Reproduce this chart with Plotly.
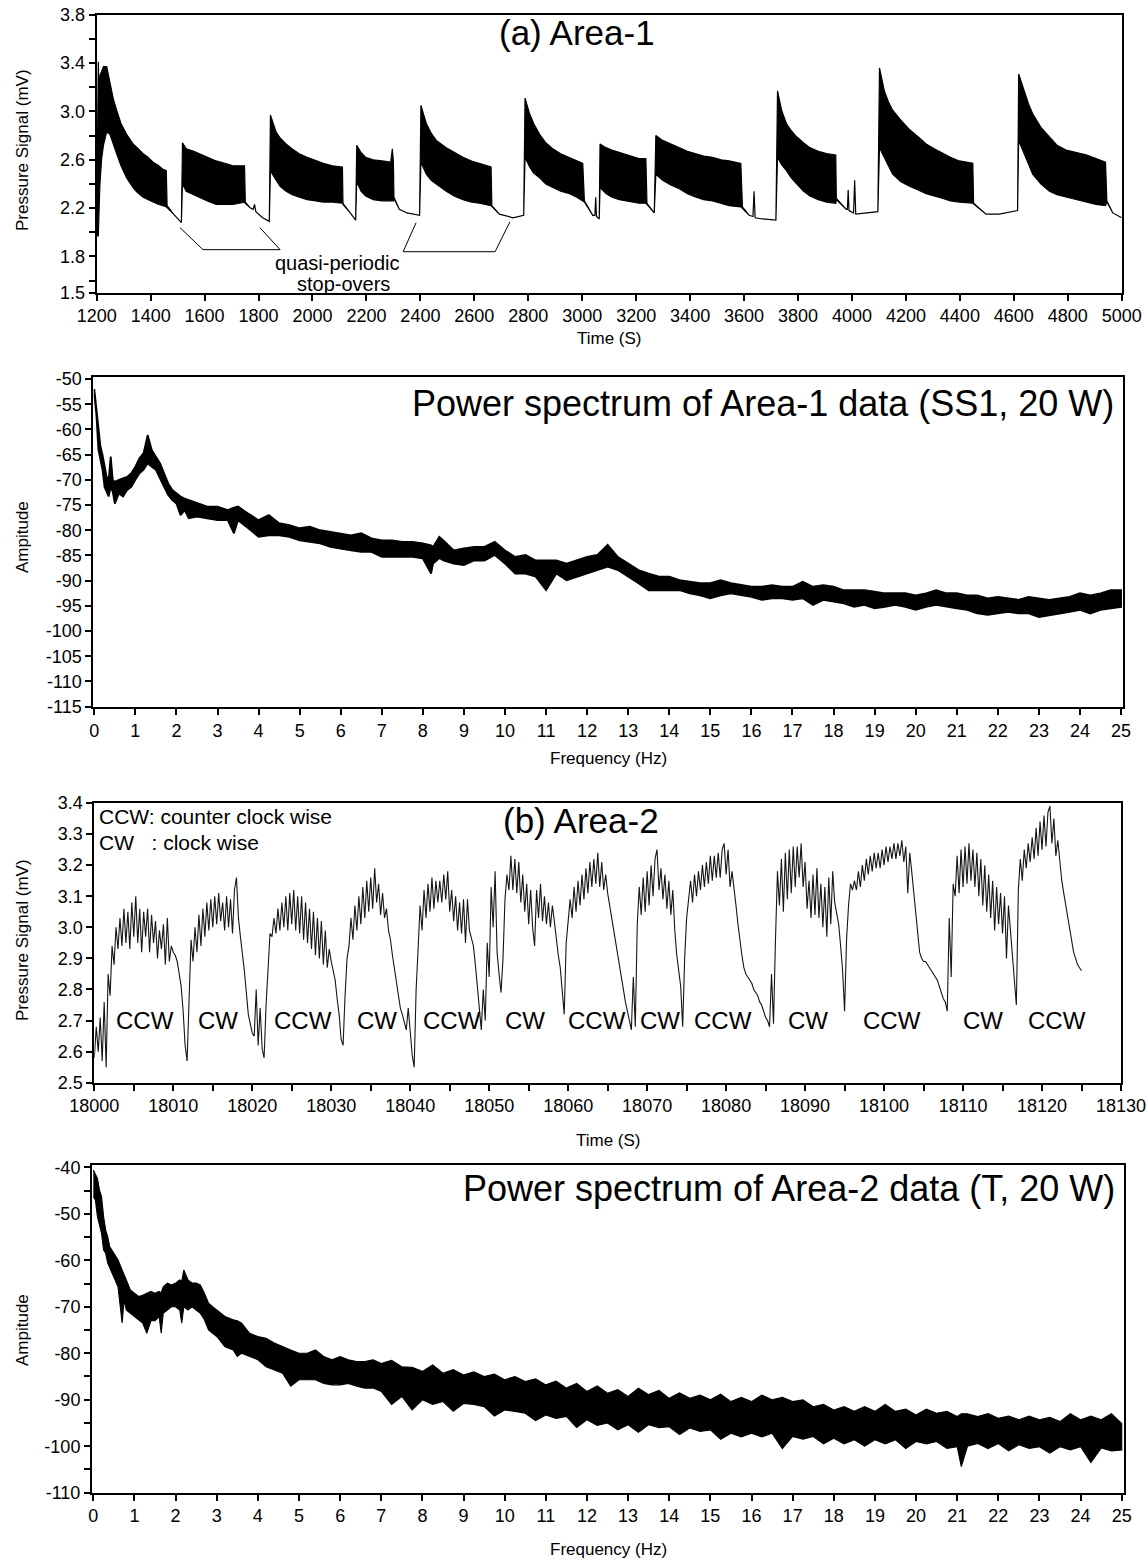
import plotly.graph_objects as go

FONT = "Liberation Sans, Arial, Helvetica, sans-serif"
W, H = 1148, 1561

# ---------------- (a) Area-1 : envelope of the dense pressure signal ----------------
A1_T = [1200, 1203, 1206, 1209, 1212, 1218, 1225, 1237, 1249, 1262, 1274, 1290, 1311, 1335, 1350,
        1372, 1390, 1409, 1430, 1446, 1458, 1461, 1485, 1514,
        1518, 1532, 1560, 1582, 1610, 1643, 1675, 1705, 1748, 1751, 1770, 1780, 1785, 1790, 1815, 1840,
        1844, 1865, 1880, 1902, 1925, 1951, 1980, 2012, 2040, 2074, 2111, 2113, 2140, 2160,
        2164, 2180, 2197, 2225, 2258, 2290, 2296, 2300, 2302, 2322, 2350, 2375, 2397,
        2402, 2422, 2440, 2459, 2496, 2525, 2558, 2590, 2619, 2662, 2665, 2693, 2743, 2783,
        2788, 2805, 2820, 2842, 2865, 2891, 2920, 2953, 2980, 3002, 3008, 3039, 3047, 3050, 3053, 3063,
        3066, 3088, 3110, 3138, 3160, 3187, 3210, 3236, 3240, 3267,
        3273, 3298, 3330, 3360, 3390, 3422, 3450, 3483, 3515, 3545, 3588, 3594, 3619, 3633, 3637, 3641, 3669, 3718,
        3724, 3739, 3757, 3775, 3795, 3820, 3844, 3875, 3906, 3940, 3942, 3979, 3983, 3986, 3989, 4006, 4010, 4014, 4050, 4096,
        4102, 4120, 4135, 4151, 4180, 4213, 4245, 4275, 4305, 4337, 4365, 4398, 4448, 4451, 4497, 4546, 4590, 4614,
        4618, 4639, 4655, 4670, 4700, 4732, 4760, 4794, 4830, 4868, 4905, 4940, 4945, 4967, 5000]
A1_UP = [2.05, 2.60, 3.41, 3.05, 3.30, 3.33, 3.37, 3.37, 3.23, 3.10, 3.01, 2.90, 2.81, 2.73, 2.70,
         2.65, 2.62, 2.58, 2.55, 2.52, 2.51, 2.22, 2.15, 2.08,
         2.74, 2.69, 2.67, 2.65, 2.62, 2.59, 2.57, 2.55, 2.55, 2.25, 2.20, 2.19, 2.23, 2.17, 2.12, 2.09,
         2.97, 2.83, 2.78, 2.73, 2.69, 2.65, 2.62, 2.59, 2.57, 2.55, 2.54, 2.24, 2.16, 2.10,
         2.72, 2.66, 2.62, 2.60, 2.59, 2.58, 2.69, 2.58, 2.29, 2.19, 2.16, 2.15, 2.14,
         3.05, 2.90, 2.82, 2.76, 2.70, 2.66, 2.62, 2.59, 2.57, 2.54, 2.22, 2.15, 2.12, 2.14,
         3.11, 2.98, 2.90, 2.81, 2.74, 2.69, 2.65, 2.62, 2.59, 2.57, 2.26, 2.14, 2.14, 2.29, 2.13, 2.11,
         2.73, 2.70, 2.68, 2.66, 2.64, 2.62, 2.61, 2.61, 2.24, 2.16,
         2.80, 2.76, 2.73, 2.70, 2.67, 2.65, 2.63, 2.62, 2.60, 2.59, 2.57, 2.21, 2.14, 2.13, 2.34, 2.12, 2.11, 2.10,
         3.17, 3.01, 2.90, 2.84, 2.79, 2.74, 2.70, 2.67, 2.65, 2.64, 2.28, 2.19, 2.19, 2.35, 2.18, 2.16, 2.43, 2.15, 2.16, 2.17,
         3.36, 3.17, 3.08, 3.01, 2.93, 2.85, 2.79, 2.73, 2.69, 2.65, 2.62, 2.59, 2.57, 2.24, 2.15, 2.15, 2.17, 2.18,
         3.31, 3.17, 3.06, 2.98, 2.87, 2.79, 2.72, 2.68, 2.66, 2.64, 2.61, 2.58, 2.26, 2.16, 2.12]
A1_LO = [1.98, 1.97, 1.97, 2.20, 2.40, 2.60, 2.72, 2.83, 2.81, 2.72, 2.65, 2.55, 2.45, 2.37, 2.33,
         2.29, 2.27, 2.25, 2.23, 2.22, 2.21, 2.20, 2.15, 2.08,
         2.40, 2.34, 2.31, 2.29, 2.26, 2.23, 2.23, 2.23, 2.25, 2.24, 2.20, 2.19, 2.23, 2.17, 2.12, 2.09,
         2.51, 2.43, 2.38, 2.34, 2.31, 2.29, 2.27, 2.26, 2.25, 2.25, 2.24, 2.23, 2.16, 2.10,
         2.42, 2.34, 2.30, 2.27, 2.26, 2.26, 2.26, 2.26, 2.28, 2.19, 2.16, 2.15, 2.14,
         2.58, 2.48, 2.43, 2.40, 2.34, 2.30, 2.27, 2.25, 2.24, 2.22, 2.21, 2.15, 2.12, 2.14,
         2.62, 2.54, 2.49, 2.45, 2.40, 2.37, 2.34, 2.32, 2.29, 2.26, 2.25, 2.14, 2.14, 2.29, 2.13, 2.11,
         2.37, 2.32, 2.29, 2.27, 2.26, 2.25, 2.24, 2.24, 2.23, 2.16,
         2.48, 2.43, 2.39, 2.36, 2.32, 2.29, 2.27, 2.26, 2.24, 2.22, 2.21, 2.20, 2.14, 2.13, 2.34, 2.12, 2.11, 2.10,
         2.62, 2.56, 2.51, 2.45, 2.40, 2.34, 2.30, 2.27, 2.25, 2.24, 2.27, 2.19, 2.19, 2.35, 2.18, 2.16, 2.43, 2.15, 2.16, 2.17,
         2.70, 2.62, 2.55, 2.48, 2.42, 2.38, 2.35, 2.32, 2.30, 2.28, 2.26, 2.25, 2.24, 2.23, 2.15, 2.15, 2.17, 2.18,
         2.76, 2.65, 2.56, 2.48, 2.40, 2.34, 2.31, 2.29, 2.27, 2.25, 2.23, 2.22, 2.25, 2.16, 2.12]
A1_XTICKS = list(range(1200, 5001, 200))
A1_YTICKS = [1.5, 1.6, 1.8, 2.0, 2.2, 2.4, 2.6, 2.8, 3.0, 3.2, 3.4, 3.6, 3.8]
A1_YLABELS = ["1.5", "", "1.8", "", "2.2", "", "2.6", "", "3.0", "", "3.4", "", "3.8"]
# bracket annotations "quasi-periodic stop-overs" (time, mV)
BRACKET_L_T = [1509, 1594, 1880, 1805]
BRACKET_L_V = [2.038, 1.856, 1.856, 2.038]
BRACKET_R_T = [2384, 2336, 2677, 2732]
BRACKET_R_V = [2.079, 1.839, 1.839, 2.087]

# ---------------- Power spectrum of Area-1 (band: upper / lower trace envelope) -------
S1_F = [0, 0.05, 0.1, 0.15, 0.2, 0.25, 0.3, 0.35, 0.4, 0.45,
        0.5, 0.6, 0.7, 0.8, 0.9, 1.0, 1.1, 1.2, 1.3, 1.4,
        1.5, 1.6, 1.7, 1.8, 1.9, 2.0, 2.1, 2.2, 2.3, 2.5,
        2.75, 3.0, 3.25, 3.4, 3.5, 3.75, 4.0, 4.25, 4.5, 4.75,
        5.0, 5.25, 5.5, 5.75, 6.0, 6.25, 6.5, 6.75, 7.0, 7.25,
        7.5, 7.75, 8.0, 8.2, 8.25, 8.4, 8.5, 8.75, 9.0, 9.25,
        9.5, 9.75, 10.0, 10.25, 10.5, 10.75, 11.0, 11.25, 11.5, 11.75,
        12.0, 12.25, 12.5, 12.75, 13.0, 13.25, 13.5, 13.75, 14.0, 14.25,
        14.5, 14.75, 15.0, 15.25, 15.5, 15.75, 16.0, 16.25, 16.5, 16.75,
        17.0, 17.25, 17.5, 17.75, 18.0, 18.25, 18.5, 18.75, 19.0, 19.25,
        19.5, 19.75, 20.0, 20.25, 20.5, 20.75, 21.0, 21.25, 21.5, 21.75,
        22.0, 22.25, 22.5, 22.75, 23.0, 23.25, 23.5, 23.75, 24.0, 24.25,
        24.5, 24.75, 25.0]
S1_UP = [-52.0, -55.5, -59.0, -63.4, -65.0, -67.4, -69.4, -70.0, -65.4, -70.0,
         -70.4, -70.0, -69.7, -69.4, -68.7, -67.4, -65.7, -64.7, -61.1, -64.1,
         -65.4, -66.7, -68.7, -70.7, -72.0, -72.7, -73.3, -73.7, -74.0, -74.7,
         -75.3, -75.3, -76.0, -75.5, -75.3, -76.7, -78.0, -77.0, -78.6, -79.0,
         -79.6, -79.3, -80.0, -80.3, -80.6, -81.0, -80.6, -81.6, -82.0, -82.0,
         -82.3, -82.3, -82.6, -83.0, -83.3, -81.3, -82.0, -84.0, -83.6, -83.3,
         -83.3, -82.3, -84.0, -85.3, -84.9, -86.0, -86.0, -86.0, -86.6, -86.0,
         -85.3, -84.9, -82.9, -85.3, -86.6, -87.9, -88.6, -89.2, -89.2, -89.9,
         -90.2, -90.5, -90.5, -89.9, -90.5, -90.9, -91.2, -91.2, -90.9, -91.2,
         -91.2, -90.2, -91.2, -90.9, -91.2, -91.9, -91.9, -91.9, -92.2, -92.5,
         -92.5, -92.5, -92.9, -92.5, -91.9, -92.5, -92.5, -92.9, -92.9, -93.5,
         -93.2, -93.5, -93.8, -93.2, -93.5, -93.8, -93.5, -93.2, -92.5, -92.9,
         -92.5, -91.9, -91.9]
S1_LO = [-53.0, -57.0, -64.0, -66.0, -68.0, -71.4, -72.4, -73.3, -71.4, -72.4,
         -74.7, -72.7, -73.3, -72.0, -71.4, -70.0, -68.7, -68.0, -66.7, -67.4,
         -68.0, -69.7, -71.4, -73.0, -74.0, -74.7, -77.0, -76.0, -77.6, -77.3,
         -77.6, -78.0, -78.0, -80.6, -78.0, -79.6, -81.3, -81.0, -81.0, -81.3,
         -82.0, -82.3, -82.6, -83.3, -83.6, -84.0, -84.3, -84.3, -85.3, -85.3,
         -85.3, -85.3, -85.6, -88.6, -86.6, -85.5, -86.0, -86.6, -86.9, -86.0,
         -86.0, -84.9, -86.6, -88.6, -88.6, -89.2, -91.9, -88.6, -89.9, -89.2,
         -88.6, -87.9, -87.2, -87.9, -89.2, -90.5, -91.9, -91.9, -91.9, -91.9,
         -92.5, -92.9, -93.5, -92.9, -92.5, -92.9, -93.2, -93.8, -93.5, -93.5,
         -93.8, -93.5, -94.8, -93.8, -94.2, -94.5, -95.2, -94.8, -95.5, -95.2,
         -94.8, -95.2, -95.8, -95.2, -94.8, -95.2, -95.5, -95.8, -96.5, -96.8,
         -96.5, -96.2, -96.5, -96.5, -97.2, -96.8, -96.5, -96.2, -95.8, -96.5,
         -95.8, -95.5, -95.2]
S1_YTICKS = list(range(-115, -49, 5))
F_TICKS = list(range(0, 26))

# ---------------- (b) Area-2 : pressure signal sampled every 0.25 s from 18000 s ------
A2_T0 = 18000.0
A2_DT = 0.25
A2_CYC_A = [2.58, 2.68, 2.60, 2.71, 2.57, 2.76, 2.55, 2.85, 2.78, 2.94, 2.88, 3.00, 2.93, 3.03, 2.94, 3.06,
            2.95, 3.05, 2.93, 3.08, 2.97, 3.10, 2.95, 3.06, 2.92, 3.05, 2.97, 3.06, 2.92, 3.04, 2.95, 3.02,
            2.90, 2.99, 2.93, 3.01, 2.88, 3.03, 2.89, 2.94, 2.92, 2.91, 2.89, 2.85, 2.81, 2.73, 2.62, 2.57]
A2_CYC_B = [2.75, 2.96, 2.89, 3.00, 2.92, 3.04, 2.94, 3.06, 2.97, 3.08, 2.99, 3.09, 3.00, 3.10, 3.01, 3.11,
            3.02, 3.08, 2.99, 3.10, 3.00, 3.09, 2.98, 3.12, 3.16, 3.03, 2.97, 2.92, 2.86, 2.79, 2.72, 2.69,
            2.66, 2.65, 2.80, 2.62, 2.74, 2.61, 2.58]
A2_CYC_C = [2.75, 2.88, 2.98, 2.97, 3.03, 2.98, 3.06, 2.99, 3.08, 3.00, 3.10, 2.99, 3.11, 3.01, 3.12, 2.99,
            3.10, 2.98, 3.10, 2.96, 3.08, 2.95, 3.06, 2.93, 3.05, 2.91, 3.03, 2.90, 3.02, 2.88, 2.99, 2.87,
            2.93, 2.89, 2.86, 2.83, 2.77, 2.72, 2.64]
A2_CYC_D = [2.62, 2.78, 2.90, 2.94, 3.03, 2.96, 3.07, 2.99, 3.10, 3.01, 3.13, 3.03, 3.15, 3.05, 3.16, 3.06,
            3.19, 3.08, 3.14, 3.04, 3.11, 3.03, 3.06, 2.99, 2.96, 2.91, 2.87, 2.83, 2.78, 2.74, 2.72, 2.69,
            2.67, 2.74, 2.65, 2.59, 2.55, 2.80]
A2_CYC_E = [2.93, 3.07, 2.99, 3.12, 3.03, 3.14, 3.05, 3.16, 3.06, 3.15, 3.08, 3.15, 3.08, 3.17, 3.09, 3.18,
            3.05, 3.12, 3.02, 3.10, 2.99, 3.08, 2.98, 3.09, 2.95, 3.09, 2.99, 2.96, 2.94, 2.88, 2.81, 2.74,
            2.67]
A2_CYC_F = [2.80, 2.70, 2.95, 2.84, 3.13, 3.00, 3.18, 2.92, 2.85, 2.79, 2.90, 3.09, 3.17, 3.12, 3.23, 3.12,
            3.22, 3.11, 3.21, 3.08, 3.17, 3.05, 3.14, 3.01, 3.12, 3.00, 2.94, 3.12, 3.03, 3.14, 3.02, 3.10,
            3.01, 3.08, 3.00, 3.07, 3.02, 2.96, 2.91, 2.87, 2.78, 2.72]
A2_CYC_G = [2.95, 3.01, 3.09, 3.03, 3.13, 3.05, 3.15, 3.07, 3.17, 3.09, 3.19, 3.11, 3.21, 3.13, 3.22, 3.14,
            3.24, 3.13, 3.21, 3.12, 3.17, 3.11, 3.07, 3.03, 2.99, 2.95, 2.91, 2.87, 2.83, 2.79, 2.76, 2.73,
            2.70, 2.67]
A2_CYC_H = [2.84, 2.68, 3.01, 3.13, 3.04, 3.16, 3.05, 3.18, 3.07, 3.20, 3.10, 3.22, 3.25, 3.12, 3.19, 3.09,
            3.17, 3.06, 3.15, 3.04, 3.12, 2.99, 2.91, 2.86, 2.81, 2.68]
A2_CYC_I = [2.90, 3.03, 3.09, 3.15, 3.08, 3.17, 3.10, 3.18, 3.12, 3.20, 3.13, 3.21, 3.14, 3.23, 3.15, 3.23,
            3.16, 3.24, 3.16, 3.25, 3.27, 3.17, 3.25, 3.13, 3.18, 3.13, 3.07, 3.01, 2.95, 2.91, 2.87, 2.85,
            2.84, 2.83, 2.82, 2.80, 2.79, 2.78, 2.76, 2.75, 2.73, 2.71, 2.70, 2.68]
A2_CYC_J = [2.85, 2.69, 2.96, 3.18, 3.07, 3.22, 3.05, 3.24, 3.09, 3.25, 3.11, 3.26, 3.13, 3.26, 3.16, 3.27,
            3.13, 3.21, 3.06, 3.15, 3.03, 3.17, 3.04, 3.19, 3.03, 3.14, 3.00, 3.13, 2.97, 3.16, 3.01, 3.18,
            3.08, 3.04, 3.01, 2.94, 2.86, 2.73]
A2_CYC_K = [2.96, 3.07, 3.14, 3.12, 3.15, 3.12, 3.18, 3.13, 3.20, 3.15, 3.22, 3.17, 3.23, 3.18, 3.24, 3.19,
            3.24, 3.19, 3.25, 3.20, 3.26, 3.21, 3.26, 3.22, 3.27, 3.22, 3.27, 3.23, 3.28, 3.21, 3.26, 3.11,
            3.24, 3.18, 3.12, 3.05, 2.99, 2.92, 2.90, 2.89, 2.89, 2.88, 2.87, 2.86, 2.85, 2.84, 2.83, 2.81,
            2.79, 2.77, 2.76, 2.73]
A2_CYC_L = [3.03, 2.84, 3.14, 3.10, 3.23, 3.11, 3.25, 3.13, 3.26, 3.14, 3.27, 3.15, 3.25, 3.13, 3.24, 3.10,
            3.22, 3.07, 3.20, 3.05, 3.17, 3.03, 3.15, 2.99, 3.13, 3.01, 3.11, 2.98, 3.10, 2.90, 3.07, 2.99,
            2.88, 2.80, 2.75]
A2_CYC_M = [3.12, 3.22, 3.15, 3.25, 3.19, 3.27, 3.21, 3.29, 3.22, 3.32, 3.23, 3.34, 3.25, 3.36, 3.26, 3.37,
            3.39, 3.27, 3.35, 3.23, 3.28, 3.21, 3.15, 3.11, 3.07, 3.03, 2.99, 2.95, 2.92, 2.90, 2.88, 2.87,
            2.86]
A2_XTICKS = list(range(18000, 18131, 5))
A2_YTICKS = [2.5, 2.6, 2.7, 2.8, 2.9, 3.0, 3.1, 3.2, 3.3, 3.4]
ROT_LABEL_T = [18006.4, 18015.7, 18026.4, 18035.8, 18045.3, 18054.5, 18063.6, 18071.6, 18079.6,
               18090.4, 18101.0, 18112.5, 18121.9]
ROT_LABEL_V = 2.70
ROT_LABELS = ["CCW", "CW", "CCW", "CW", "CCW", "CW", "CCW", "CW", "CCW", "CW", "CCW", "CW", "CCW"]

# ---------------- Power spectrum of Area-2 (band: upper / lower trace envelope) -------
S2_F = [0, 0.05, 0.1, 0.15, 0.2, 0.25, 0.3, 0.35, 0.4, 0.5,
        0.6, 0.7, 0.75, 0.8, 0.9, 1.0, 1.1, 1.2, 1.3, 1.4,
        1.5, 1.6, 1.65, 1.7, 1.8, 1.9, 2.0, 2.1, 2.15, 2.2,
        2.3, 2.4, 2.5, 2.6, 2.7, 2.8, 2.9, 3.0, 3.2, 3.4,
        3.5, 3.6, 3.8, 4.0, 4.2, 4.4, 4.6, 4.8, 5.0, 5.2,
        5.4, 5.6, 5.8, 6.0, 6.2, 6.4, 6.6, 6.8, 7.0, 7.25,
        7.5, 7.75, 8.0, 8.25, 8.5, 8.75, 9.0, 9.25, 9.5, 9.75,
        10.0, 10.25, 10.5, 10.75, 11.0, 11.25, 11.5, 11.75, 12.0, 12.25,
        12.5, 12.75, 13.0, 13.25, 13.5, 13.75, 14.0, 14.25, 14.5, 14.75,
        15.0, 15.25, 15.5, 15.75, 16.0, 16.25, 16.5, 16.75, 17.0, 17.25,
        17.5, 17.75, 18.0, 18.25, 18.5, 18.75, 19.0, 19.25, 19.5, 19.75,
        20.0, 20.25, 20.5, 20.75, 21.0, 21.1, 21.25, 21.5, 21.75, 22.0,
        22.25, 22.5, 22.75, 23.0, 23.25, 23.5, 23.75, 24.0, 24.25, 24.5,
        24.75, 25.0]
S2_UP = [-40.6, -41.6, -42.4, -44.9, -46.3, -50.6, -53.5, -54.9, -57.1, -58.5,
         -59.9, -62.1, -63.0, -64.2, -66.4, -67.1, -67.8, -67.5, -67.1, -66.7,
         -67.1, -66.7, -67.0, -65.7, -64.9, -65.3, -64.9, -64.2, -64.5, -62.1,
         -64.2, -64.9, -64.9, -65.3, -67.1, -69.2, -70.0, -70.7, -72.1, -72.8,
         -73.0, -73.5, -75.7, -76.4, -76.8, -77.8, -78.6, -79.3, -80.0, -80.0,
         -79.3, -80.7, -81.4, -80.7, -81.4, -81.8, -81.8, -81.4, -82.2, -81.5,
         -82.9, -83.0, -83.9, -82.5, -84.3, -83.5, -84.7, -84.0, -85.0, -84.5,
         -85.7, -85.0, -86.1, -85.5, -86.8, -86.0, -87.5, -86.5, -88.2, -87.0,
         -88.6, -87.8, -89.3, -87.5, -88.9, -88.0, -89.7, -88.5, -89.7, -89.0,
         -90.0, -88.8, -90.4, -89.5, -90.4, -89.0, -90.0, -89.5, -90.4, -90.0,
         -91.5, -91.0, -92.2, -91.5, -92.5, -91.5, -92.5, -91.0, -92.5, -92.0,
         -93.3, -92.0, -92.9, -92.5, -93.6, -93.0, -93.0, -93.6, -93.0, -94.0,
         -93.5, -94.3, -93.5, -94.3, -93.8, -94.7, -93.0, -94.3, -93.5, -94.3,
         -93.0, -95.1]
S2_LO = [-46.3, -47.0, -50.6, -52.0, -54.2, -57.8, -58.5, -60.6, -61.4, -63.5,
         -65.7, -73.5, -68.5, -70.7, -71.4, -72.1, -72.8, -73.5, -75.7, -73.0,
         -73.0, -72.1, -75.7, -71.4, -70.7, -70.0, -70.0, -70.7, -73.5, -70.0,
         -70.7, -70.0, -70.7, -71.4, -72.8, -75.0, -75.7, -76.4, -78.6, -79.3,
         -80.7, -80.0, -80.7, -81.4, -82.9, -83.6, -84.3, -87.1, -85.7, -85.7,
         -85.7, -86.5, -86.8, -86.8, -86.5, -87.1, -87.5, -87.5, -88.2, -91.0,
         -89.3, -92.2, -90.0, -91.0, -90.4, -92.5, -90.8, -91.0, -91.5, -93.5,
         -92.2, -92.5, -92.9, -94.5, -93.3, -94.0, -93.6, -96.0, -94.3, -95.5,
         -95.0, -96.5, -95.4, -97.0, -95.4, -96.0, -95.8, -97.5, -96.1, -96.8,
         -96.5, -98.5, -97.2, -98.0, -97.2, -98.0, -97.2, -100.5, -97.9, -98.5,
         -97.9, -99.5, -98.3, -99.5, -98.6, -100.0, -98.6, -99.5, -98.6, -100.5,
         -99.0, -99.5, -99.0, -100.5, -100.1, -104.4, -100.0, -99.4, -100.5, -99.4,
         -101.0, -99.7, -100.5, -100.1, -101.5, -100.1, -100.8, -100.1, -103.5, -100.4,
         -101.0, -100.8]
S2_YTICKS = list(range(-110, -39, 5))

# ============================== figure =======================================
fig = go.Figure()


def band(xs, up, lo, xa, ya, lw):
    fig.add_trace(go.Scatter(
        x=list(xs) + list(xs)[::-1], y=list(up) + list(lo)[::-1],
        mode="lines", fill="toself", fillcolor="black",
        line=dict(color="black", width=lw), xaxis=xa, yaxis=ya,
        hoverinfo="skip", showlegend=False))


band(A1_T, A1_UP, A1_LO, "x", "y", 1.2)
band(S1_F, S1_UP, S1_LO, "x2", "y2", 1.8)

a2_vals = (A2_CYC_A + A2_CYC_B + A2_CYC_C + A2_CYC_D + A2_CYC_E + A2_CYC_F + A2_CYC_G +
           A2_CYC_H + A2_CYC_I + A2_CYC_J + A2_CYC_K + A2_CYC_L + A2_CYC_M)
a2_t = [A2_T0 + A2_DT * i for i in range(len(a2_vals))]
fig.add_trace(go.Scatter(x=a2_t, y=a2_vals, mode="lines",
                         line=dict(color="#151515", width=1.1),
                         xaxis="x3", yaxis="y3", hoverinfo="skip", showlegend=False))

band(S2_F, S2_UP, S2_LO, "x4", "y4", 1.1)

# bracket lines
for bt, bv in ((BRACKET_L_T, BRACKET_L_V), (BRACKET_R_T, BRACKET_R_V)):
    fig.add_trace(go.Scatter(x=bt, y=bv, mode="lines", line=dict(color="black", width=1),
                             xaxis="x", yaxis="y", hoverinfo="skip", showlegend=False))


def axis(domain, rng, tickvals, ticktext, anchor):
    return dict(domain=domain, range=rng, tickmode="array", tickvals=tickvals, ticktext=ticktext,
                ticks="outside", ticklen=6, tickwidth=1.5, tickcolor="black",
                showline=True, linewidth=2, linecolor="black", mirror=True,
                showgrid=False, zeroline=False, anchor=anchor, fixedrange=True,
                automargin=False,
                tickfont=dict(family=FONT, size=18, color="black"))


def py(p):  # pixel row -> paper y
    return (H - p) / H


def px(p):
    return p / W


layout = dict(
    width=W, height=H, autosize=False,
    margin=dict(l=0, r=0, t=0, b=0, pad=0, autoexpand=False),
    paper_bgcolor="white", plot_bgcolor="white", showlegend=False,
    font=dict(family=FONT, color="black"),
)
layout["xaxis"] = axis([px(96.7), px(1121.7)], [1200, 5000], A1_XTICKS, [str(v) for v in A1_XTICKS], "y")
layout["yaxis"] = axis([py(292.7), py(14.7)], [1.5, 3.8], A1_YTICKS, A1_YLABELS, "x")
layout["xaxis2"] = axis([px(93.3), px(1122.7)], [-0.024, 25.04], F_TICKS, [str(v) for v in F_TICKS], "y2")
layout["yaxis2"] = axis([py(707), py(377)], [-115.06, -49.6], S1_YTICKS, [str(v) for v in S1_YTICKS], "x2")
layout["xaxis3"] = axis([px(94.3), px(1121)], [18000, 18130], A2_XTICKS,
                        [str(v) if v % 10 == 0 else "" for v in A2_XTICKS], "y3")
layout["yaxis3"] = axis([py(1082.7), py(803)], [2.5, 3.4], A2_YTICKS, ["%.1f" % v for v in A2_YTICKS], "x3")
layout["xaxis4"] = axis([px(92), px(1124)], [-0.032, 25.055], F_TICKS, [str(v) for v in F_TICKS], "y4")
layout["yaxis4"] = axis([py(1492.7), py(1165)], [-110, -39.5], S2_YTICKS,
                        [str(v) if v % 10 == 0 else "" for v in S2_YTICKS], "x4")

ann = []


def label(text, x, y, size, xanchor="center", yanchor="middle", angle=0, xref="paper", yref="paper"):
    ann.append(dict(text=text, x=x, y=y, xref=xref, yref=yref, showarrow=False,
                    xanchor=xanchor, yanchor=yanchor, textangle=angle,
                    font=dict(family=FONT, size=size, color="black")))


# titles inside panels
label("(a) Area-1", px(577), py(33), 35)
label("Power spectrum of Area-1 data (SS1, 20 W)", px(1116), py(403), 36, xanchor="right")
label("(b) Area-2", px(581), py(820), 35)
label("Power spectrum of Area-2 data (T, 20 W)", px(1117), py(1188), 36, xanchor="right")
# axis titles
label("Pressure Signal (mV)", px(22), py(150), 17, angle=-90)
label("Time (S)", px(609), py(338), 17)
label("Ampitude", px(22), py(537), 17, angle=-90)
label("Frequency (Hz)", px(608), py(758), 17)
label("Pressure Signal (mV)", px(22), py(940), 17, angle=-90)
label("Time (S)", px(608), py(1140), 17)
label("Ampitude", px(22), py(1330), 17, angle=-90)
label("Frequency (Hz)", px(608), py(1549), 17)
# panel (a) note
label("quasi-periodic", px(337), py(263), 20)
label("stop-overs", px(343), py(284), 20)
# panel (b) legend text
label("CCW: counter clock wise", px(97), py(816), 21, xanchor="left")
label("CW\u00a0\u00a0\u00a0: clock wise", px(97), py(842), 21, xanchor="left")
for t, s in zip(ROT_LABEL_T, ROT_LABELS):
    label(s, t, ROT_LABEL_V, 24, xref="x3", yref="y3")

layout["annotations"] = ann
fig.update_layout(**layout)
fig.write_html("out.html")
